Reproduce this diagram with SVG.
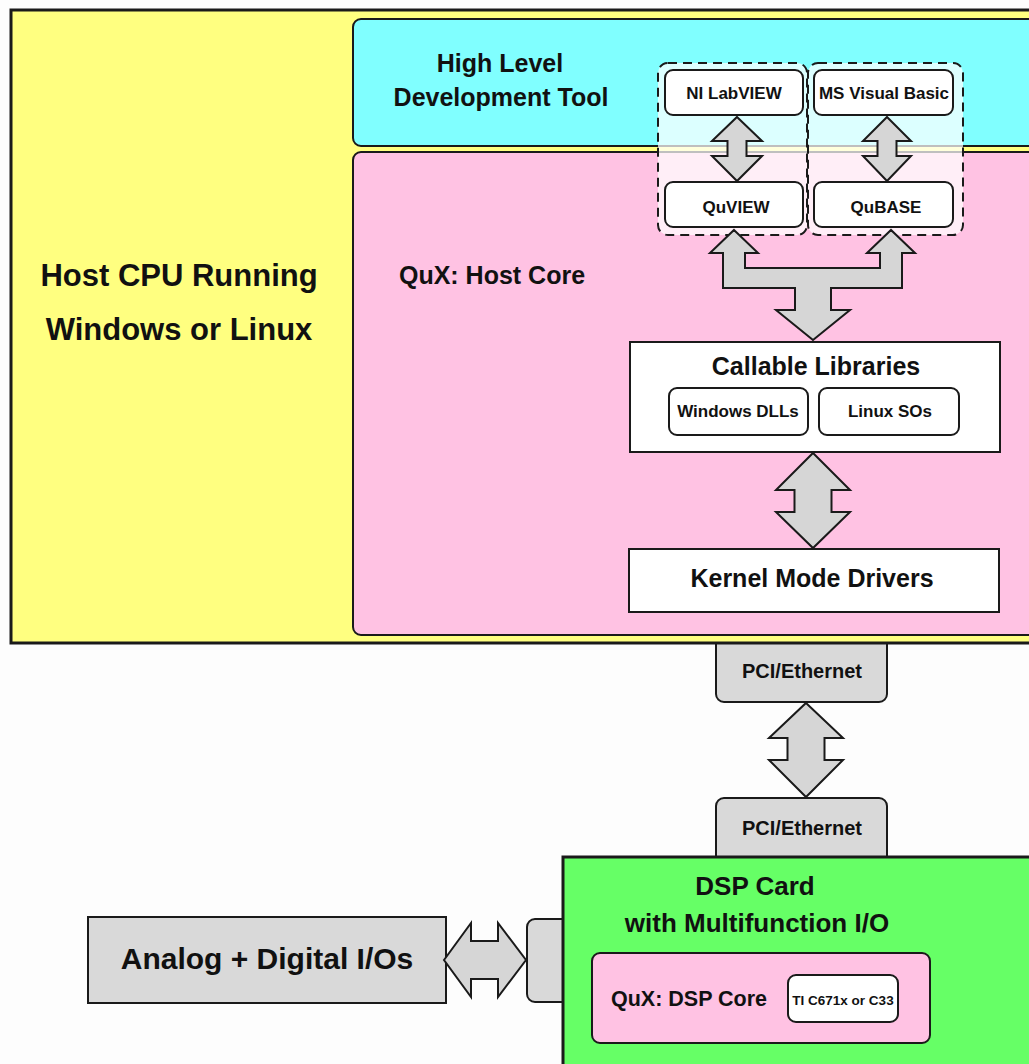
<svg xmlns="http://www.w3.org/2000/svg" width="1029" height="1064" viewBox="0 0 1029 1064">
<style>
text{font-family:"Liberation Sans",Arial,sans-serif;font-weight:bold;fill:#111;text-anchor:middle}
.big{font-size:31px}
.mid{font-size:25px}
.sm{font-size:17px}
.box{stroke:#1a1a1a;stroke-width:2}
.arrow{fill:#d6d6d6;stroke:#1a1a1a;stroke-width:2;stroke-linejoin:miter}
.dash{fill:#ffffff;fill-opacity:0.72;stroke:#1a1a1a;stroke-width:2;stroke-dasharray:9,6}
</style>
<rect width="1029" height="1064" fill="#fdfdfd"/>
<g id="pci-top"><rect x="716" y="620" width="171" height="82" rx="8" fill="#d9d9d9" class="box"/><text x="802" y="678" style="font-size:20px">PCI/Ethernet</text></g>
<g id="pci-bottom"><rect x="716" y="798" width="171" height="90" rx="8" fill="#d9d9d9" class="box"/><text x="802" y="835" style="font-size:20px">PCI/Ethernet</text></g>
<g id="io-port"><rect x="527" y="919" width="70" height="83" rx="8" fill="#d9d9d9" class="box"/></g>
<g id="host-cpu">
<rect x="11" y="10" width="1040" height="633" fill="#ffff80" stroke="#1a1a1a" stroke-width="3"/>
<text class="big" x="179" y="286">Host CPU Running</text>
<text class="big" x="179" y="340">Windows or Linux</text>
</g>
<g id="hl-tool">
<rect x="353" y="19" width="700" height="127" rx="8" fill="#80ffff" class="box"/>
<text class="mid" x="500" y="72">High Level</text>
<text class="mid" x="501" y="106">Development Tool</text>
</g>
<g id="host-core">
<rect x="353" y="152" width="700" height="483" rx="8" fill="#ffc2e3" class="box"/>
<text class="mid" x="492" y="284">QuX: Host Core</text>
</g>
<g id="group-labview"><rect x="658" y="63" width="149" height="172" rx="10" class="dash"/></g>
<g id="group-vb"><rect x="808" y="63" width="155" height="172" rx="10" class="dash"/></g>
<g id="ni-labview"><rect x="665" y="70" width="138" height="45" rx="8" fill="#fff" class="box"/><text class="sm" x="734" y="99">NI LabVIEW</text></g>
<g id="ms-vb"><rect x="814" y="70" width="139" height="45" rx="8" fill="#fff" class="box"/><text class="sm" x="884" y="99">MS Visual Basic</text></g>
<g id="quview"><rect x="665" y="182" width="138" height="45" rx="8" fill="#fff" class="box"/><text class="sm" x="736" y="213">QuVIEW</text></g>
<g id="qubase"><rect x="814" y="182" width="139" height="45" rx="8" fill="#fff" class="box"/><text class="sm" x="886" y="213">QuBASE</text></g>
<g id="callable">
<rect x="630" y="342" width="370" height="110" fill="#fff" class="box"/>
<text class="mid" x="816" y="375">Callable Libraries</text>
<rect x="669" y="388" width="139" height="47" rx="8" fill="#fff" class="box"/>
<text class="sm" x="738" y="417">Windows DLLs</text>
<rect x="819" y="388" width="140" height="47" rx="8" fill="#fff" class="box"/>
<text class="sm" x="890" y="417">Linux SOs</text>
</g>
<g id="kernel"><rect x="629" y="549" width="370" height="63" fill="#fff" class="box"/><text class="mid" x="812" y="587">Kernel Mode Drivers</text></g>
<g id="dsp-card">
<rect x="563" y="857" width="490" height="220" fill="#66ff66" stroke="#1a1a1a" stroke-width="3"/>
<text x="755" y="895" style="font-size:26px">DSP Card</text>
<text x="757" y="932" style="font-size:26px">with Multifunction I/O</text>
</g>
<g id="dsp-core">
<rect x="592" y="953" width="338" height="90" rx="8" fill="#ffc2e3" class="box"/>
<text x="689" y="1006" style="font-size:21.5px">QuX: DSP Core</text>
</g>
<g id="ti-dsp"><rect x="788" y="975" width="110" height="47" rx="8" fill="#fff" class="box"/><text x="843" y="1005" style="font-size:13.5px">TI C671x or C33</text></g>
<g id="analog"><rect x="88" y="917" width="358" height="86" fill="#d9d9d9" class="box"/><text x="267" y="969" style="font-size:30px">Analog + Digital I/Os</text></g>
<g id="connectors">
<path class="arrow" d="M737,117 L762,141 L746.5,141 L746.5,156 L762,156 L737,181 L712,156 L727.5,156 L727.5,141 L712,141 Z"/>
<path class="arrow" d="M887,117 L911,141 L896.5,141 L896.5,156 L911,156 L887,181 L863,156 L877.5,156 L877.5,141 L863,141 Z"/>
<path class="arrow" d="M734,230 L758,253 L745,253 L745,268 L880,268 L880,253 L867,253 L891,230 L915,253 L902,253 L902,288 L831,288 L831,310 L850,310 L813,340 L776,310 L795,310 L795,288 L723,288 L723,253 L710,253 Z"/>
<path class="arrow" d="M813,453 L850,490 L831.5,490 L831.5,512 L850,512 L813,548 L776,512 L794.5,512 L794.5,490 L776,490 Z"/>
<path class="arrow" d="M806,703 L843,738 L824.5,738 L824.5,760 L843,760 L806,797 L769,760 L787.5,760 L787.5,738 L769,738 Z"/>
<path class="arrow" d="M444,960 L471,923 L471,941 L498,941 L498,923 L526,960 L498,997 L498,979 L471,979 L471,997 Z"/>
</g>
</svg>
